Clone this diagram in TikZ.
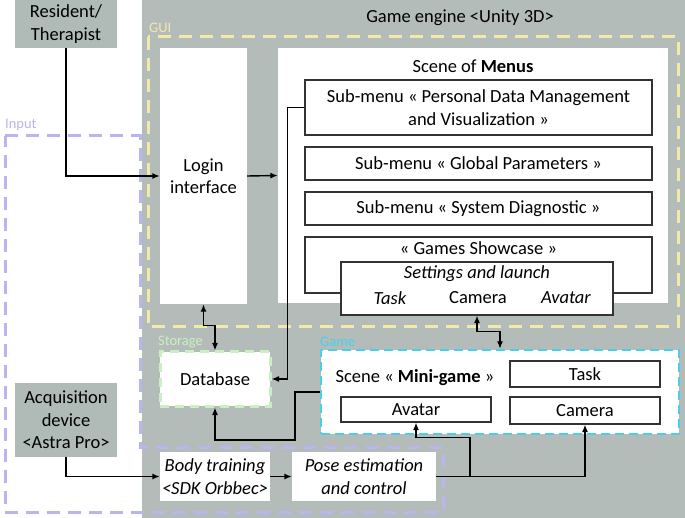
\documentclass[tikz,border=0pt]{standalone}
\usepackage{fontspec}
\setmainfont{Carlito}
\usetikzlibrary{arrows.meta,calc}
\definecolor{bggray}{RGB}{180,188,185}
\definecolor{boxgray}{RGB}{176,186,182}
\definecolor{guiy}{RGB}{242,234,170}
\definecolor{inpp}{RGB}{188,180,238}
\definecolor{stog}{RGB}{200,240,192}
\definecolor{gamec}{RGB}{70,208,238}
\tikzset{
  txt/.style={font=\fontsize{18.5}{22.5}\selectfont, align=center},
  whitebox/.style={fill=white, draw=none, inner sep=0pt, txt},
  subbox/.style={fill=white, draw=black!80, line width=1.1pt, inner sep=0pt, txt},
  graybox/.style={fill=boxgray, draw=none, inner sep=0pt, txt},
  grplabel/.style={font=\fontsize{14.5}{16}\selectfont, anchor=west, inner sep=0pt},
  conn/.style={line width=1.4pt, -{Latex[length=7.5pt,width=6pt]}},
  conn2/.style={line width=1.4pt, {Latex[length=7.5pt,width=6pt]}-{Latex[length=7.5pt,width=6pt]}},
}
\begin{document}
\begin{tikzpicture}[x=1pt,y=-1pt]
\useasboundingbox (0,0) rectangle (685,518);
% game engine background
\fill[bggray] (142,0) rectangle (685,518);
\node[txt, anchor=center] (ge) at (460,18) {Game engine <Unity 3D>};
% GUI group
\draw[guiy, line width=3pt, dash pattern=on 13pt off 8pt] (148,37) rectangle (678,327);
\node[grplabel, text=guiy] (guil) at (149,28) {GUI};
% Input group
\draw[inpp, line width=3pt, dash pattern=on 13pt off 8pt] (5,136) -- (140,136) -- (140,447) -- (443,447) -- (443,512) -- (5,512) -- cycle;
\node[grplabel, text=inpp] (inl) at (5,125) {Input};
% external boxes
\node[graybox, minimum width=102pt, minimum height=48pt] (res) at (66,24) {Resident/\\Therapist};
\node[graybox, minimum width=102pt, minimum height=74pt] (acq) at (66,420) {Acquisition\\device\\<Astra Pro>};
% login
\node[whitebox, minimum width=87pt, minimum height=256pt] (login) at (203.5,176) {Login\\interface};
% scene of menus
\node[whitebox, minimum width=390pt, minimum height=255pt] (menus) at (473,175.5) {};
\node[txt] (menust) at (473,66) {Scene of \textbf{Menus}};
\node[subbox, minimum width=347pt, minimum height=55pt] (sub1) at (478.5,107.5) {Sub-menu « Personal Data Management\\and Visualization »};
\node[subbox, minimum width=347pt, minimum height=33pt] (sub2) at (478.5,163.5) {Sub-menu « Global Parameters »};
\node[subbox, minimum width=347pt, minimum height=33pt] (sub3) at (478.5,208.5) {Sub-menu « System Diagnostic »};
\node[subbox, minimum width=347pt, minimum height=56pt] (games) at (478.5,265) {};
\node[txt] (gamest) at (478.5,248) {« Games Showcase »};
\node[subbox, minimum width=272pt, minimum height=53pt] (set) at (477,288.5) {};
\node[txt] (sett) at (477,274) {\itshape Settings and launch};
\node[txt] (settask) at (390,298) {\itshape Task};
\node[txt] (setcam) at (478,298) {Camera};
\node[txt] (setav) at (566,298) {\itshape Avatar};
% storage
\node[grplabel, text=stog] (stol) at (158,342) {Storage};
\node[whitebox, draw=stog, line width=3pt, dash pattern=on 9pt off 6pt, minimum width=110pt, minimum height=54pt] (db) at (215,379) {Database};
% game
\node[grplabel, text=gamec] (gamel) at (320,342) {Game};
\node[whitebox, draw=gamec, line width=2.4pt, dash pattern=on 9pt off 5pt, minimum width=358pt, minimum height=84pt] (game) at (500,392) {};
\node[txt] (mgt) at (415,378) {Scene « \textbf{Mini-game} »};
\node[subbox, minimum width=150pt, minimum height=26pt] (task) at (585,374) {Task};
\node[subbox, minimum width=150pt, minimum height=25pt] (av) at (416,409.5) {Avatar};
\node[subbox, minimum width=150pt, minimum height=27pt] (cam) at (585,410.5) {Camera};
% input processing
\node[whitebox, minimum width=110pt, minimum height=49pt] (body) at (215,476.5) {\itshape Body training\\\itshape <SDK Orbbec>};
\node[whitebox, minimum width=144pt, minimum height=49pt] (pose) at (364,476.5) {\itshape Pose estimation\\\itshape and control};
% connectors
\draw[conn] (res.south) |- (login.west);
\draw[conn] (login.east) -- (menus.west);
\draw[conn2] (login.south) |- ($(db.north)+(0,-25)$) -| (db.north);
\draw[conn] (sub1.west) -- ++(-17,0) |- (db.east);
\coordinate (g1) at (295,440);
\draw[conn] (game.west) -| (g1) -| (db.south);
\draw[conn2] (set.south) |- ($(game.north)+(0,-17)$) -| (game.north);
\draw[conn] (acq.south) |- (body.west);
\draw[conn] (body.east) -- (pose.west);
\draw[conn] (pose.east) -| (cam.south);
\coordinate (br) at (470,476.5);
\draw[conn] (br) |- ($(av.south)+(0,15)$) -| (av.south);
\end{tikzpicture}
\end{document}
